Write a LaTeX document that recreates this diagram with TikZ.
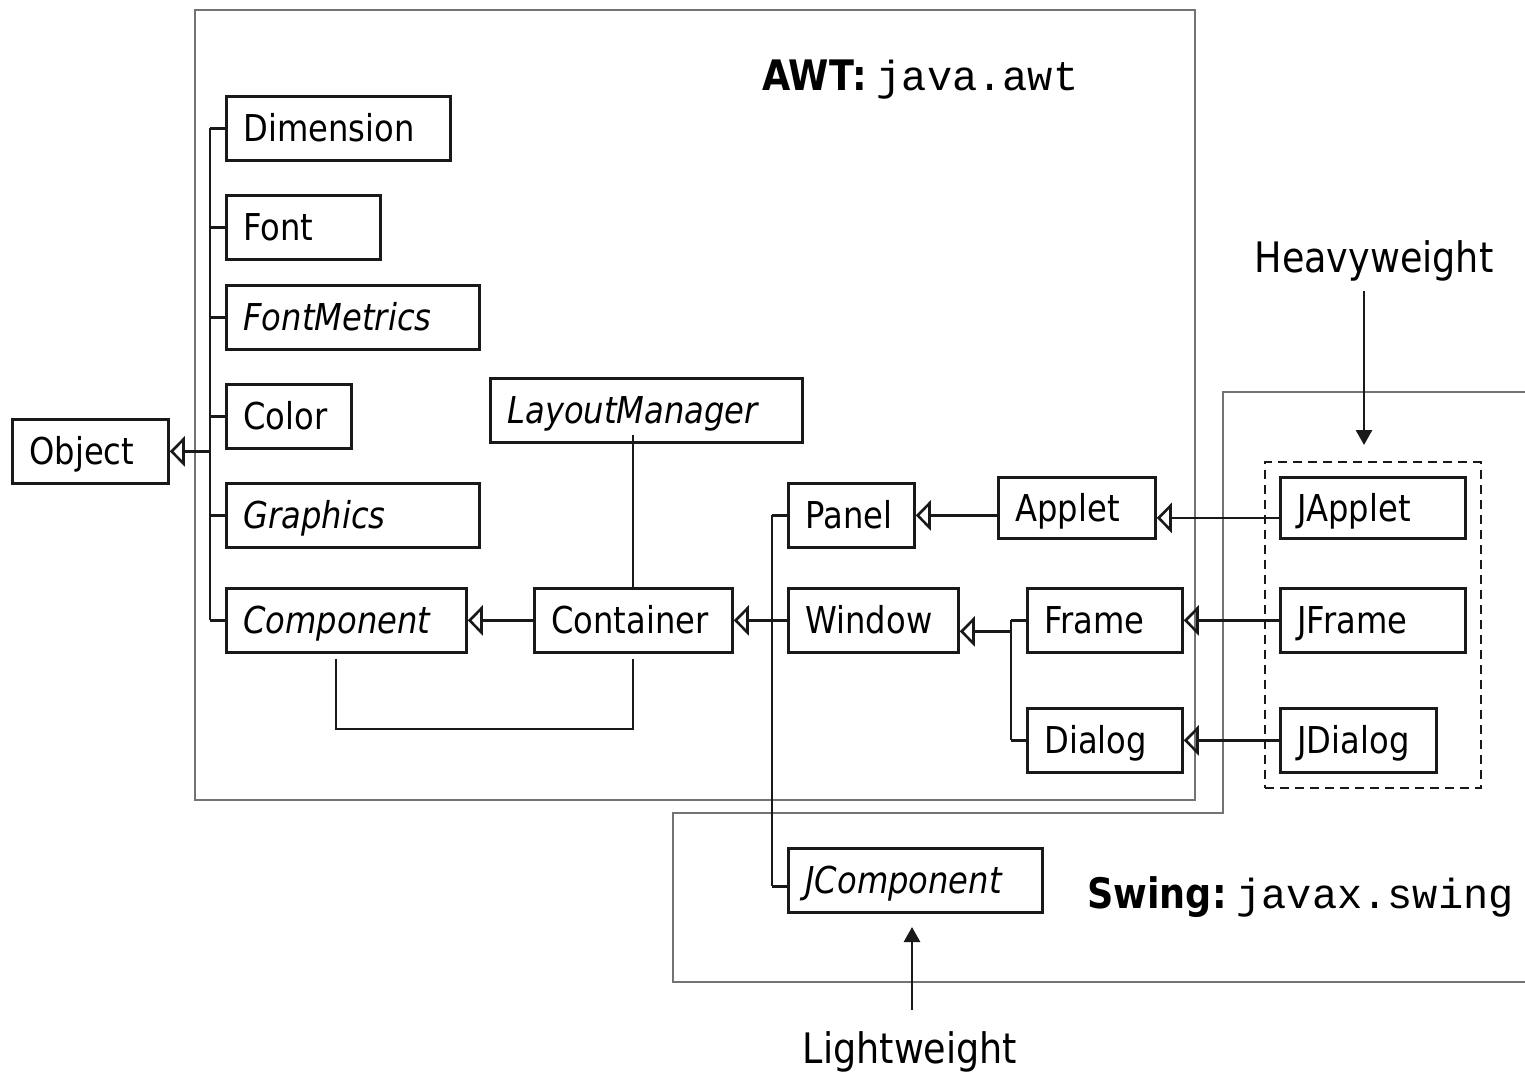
\documentclass[tikz,border=0pt]{standalone}
\usepackage{fontspec}
\setmainfont{DejaVu Sans}[FakeStretch=0.87]
\newfontfamily\monofont{Liberation Mono}
\usetikzlibrary{arrows.meta,fit}
\begin{document}
\begin{tikzpicture}[x=1pt,y=-1pt,
  cls/.style={draw=black!90, line width=2.8pt, fill=white, font=\fontsize{37}{40}\selectfont,
    inner xsep=17pt, inner ysep=0pt, minimum height=64pt, text height=27pt, text depth=0pt,
    align=left, anchor=north west},
  abs/.style={cls, font=\fontsize{37}{40}\selectfont\itshape},
  conn/.style={line width=2.6pt, draw=black!90},
  inh/.style={conn, -{Triangle[open, length=15pt, width=30pt]}},
  region/.style={draw=black!55, line width=1.8pt},
  note/.style={font=\fontsize{42}{46}\selectfont, inner xsep=0pt},
  pointer/.style={line width=2.8pt, draw=black!90, -{Triangle[length=15pt, width=16pt]}},
  heavygroup/.style={draw=black!90, line width=2.6pt, dash pattern=on 9pt off 6pt, inner sep=14pt},
]
\useasboundingbox (0,0) rectangle (1525,1072);
\fill[white] (0,0) rectangle (1525,1072);

% package regions
\draw[region] (195,10) rectangle (1195,800);
\draw[region] (1525,392) -- (1223,392) -- (1223,813) -- (673,813) -- (673,982) -- (1525,982);

% region titles
\node[anchor=base west, inner sep=0pt, font=\fontsize{42}{46}\selectfont\bfseries] (awt) at (762,90)
  {AWT:\hspace{10pt}{\monofont\mdseries java.awt}};
\node[anchor=base west, inner sep=0pt, font=\fontsize{42}{46}\selectfont\bfseries] (swing) at (1087,908)
  {Swing:\hspace{10pt}{\monofont\mdseries javax.swing}};

% classes
\node[cls, text width=122pt] (obj) at (11,418) {Object};
\node[cls, text width=190pt] (dim) at (225,95) {Dimension};
\node[cls, text width=120pt] (font) at (225,194) {Font};
\node[abs, text width=219pt] (fm) at (225,284) {FontMetrics};
\node[cls, text width=91pt] (color) at (225,383) {Color};
\node[abs, text width=219pt] (gfx) at (225,482) {Graphics};
\node[abs, text width=206pt] (comp) at (225,587) {Component};
\node[abs, text width=278pt] (lm) at (489,377) {LayoutManager};
\node[cls, text width=164pt] (cont) at (533,587) {Container};
\node[cls, text width=92pt] (panel) at (787,482) {Panel};
\node[cls, text width=136pt] (win) at (787,587) {Window};
\node[cls, text width=123pt, minimum height=61pt] (applet) at (997,476) {Applet};
\node[cls, text width=121pt] (frame) at (1026,587) {Frame};
\node[cls, text width=121pt] (dialog) at (1026,707) {Dialog};
\node[cls, text width=151pt, minimum height=61pt] (japplet) at (1279,476) {JApplet};
\node[cls, text width=151pt] (jframe) at (1279,587) {JFrame};
\node[cls, text width=122pt] (jdialog) at (1279,707) {JDialog};
\node[abs, text width=220pt] (jcomp) at (787,847) {JComponent};

% heavyweight group
\node[heavygroup, fit=(japplet)(jframe)(jdialog)] (hgroup) {};

% Object hierarchy
\draw[conn] ([xshift=-15pt]dim.west) -- ([xshift=-15pt]comp.west);
\foreach \c in {dim,font,fm,color,gfx,comp} \draw[conn] ([xshift=-15pt]\c.west) -- (\c.west);
\draw[inh] ([xshift=-15pt]dim.west |- obj.east) -- (obj.east);

% Component / Container
\draw[inh] (cont.west) -- (comp.east);
\coordinate (ca) at ([xshift=111pt,yshift=-5pt]comp.south west);
\coordinate (cb) at ([xshift=100pt,yshift=-5pt]cont.south west);
\coordinate (loopy) at (0,729);
\draw[conn] (ca) -- (ca |- loopy) -| (cb);
\coordinate (lmx) at ([xshift=100pt]cont.north west);
\draw[conn] (lmx) -- ([yshift=9pt]lmx |- lm.south);

% Panel, Window, JComponent -> Container
\draw[conn] ([xshift=-15pt]panel.west) -- ([xshift=-15pt,yshift=-6pt]jcomp.west);
\draw[conn] ([xshift=-15pt]panel.west) -- (panel.west);
\draw[conn] ([xshift=-15pt]win.west) -- (win.west);
\draw[conn] ([xshift=-15pt,yshift=-6pt]jcomp.west) -- ([yshift=-6pt]jcomp.west);
\draw[inh] ([xshift=-15pt]win.west |- cont.east) -- (cont.east);

% Applet -> Panel
\draw[inh] (panel.east -| applet.west) -- (panel.east);

% Frame, Dialog -> Window
\draw[conn] ([xshift=-15pt]frame.west) -- ([xshift=-15pt]dialog.west);
\draw[conn] ([xshift=-15pt]frame.west) -- (frame.west);
\draw[conn] ([xshift=-15pt]dialog.west) -- (dialog.west);
\draw[inh] ([xshift=-15pt,yshift=-11pt]frame.west |- win.east) -- ([yshift=-11pt]win.east);

% Swing -> AWT
\draw[inh] ([yshift=-10pt]japplet.west) -- ([yshift=-10pt]applet.east);
\draw[inh] (jframe.west) -- (frame.east);
\draw[inh] (jdialog.west) -- (dialog.east);

% annotations
\node[note, anchor=base, inner ysep=10pt] (heavy) at (1374,272) {Heavyweight};
\coordinate (hvtip) at (1364,445);
\draw[pointer] (heavy.south -| hvtip) -- (hvtip);
\node[note, anchor=base, inner ysep=21pt] (light) at (910,1063) {Lightweight};
\coordinate (lwtip) at (912,927);
\draw[pointer] (light.north -| lwtip) -- (lwtip);
\end{tikzpicture}
\end{document}
